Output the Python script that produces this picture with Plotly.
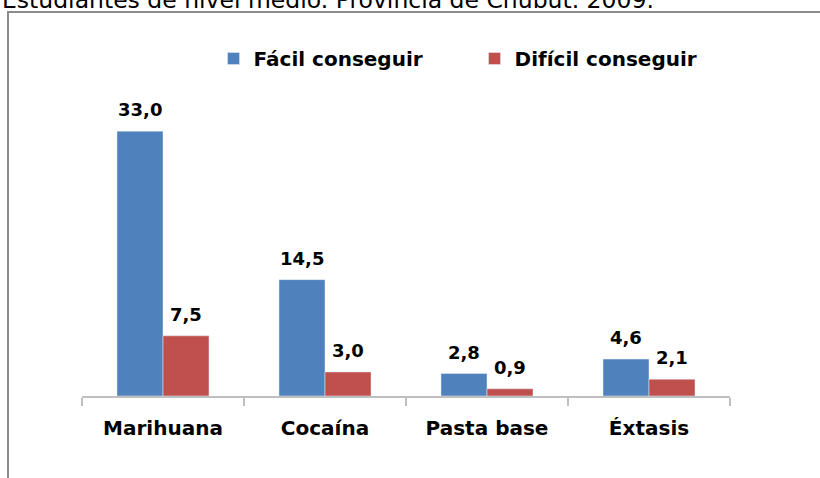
import plotly.graph_objects as go

categories = ["Marihuana", "Cocaína", "Pasta base", "Éxtasis"]
facil = [33.0, 14.5, 2.8, 4.6]
dificil = [7.5, 3.0, 0.9, 2.1]
series_names = ["Fácil conseguir", "Difícil conseguir"]
title_text = "Estudiantes de nivel medio. Provincia de Chubut. 2009."

BLUE = "#4F81BD"
RED = "#C0504D"
FONT = "DejaVu Sans"


def fmt(v):
    return f"{v:.1f}".replace(".", ",")


fig = go.Figure()
fig.add_trace(go.Bar(x=categories, y=facil, name=series_names[0], marker_color=BLUE))
fig.add_trace(go.Bar(x=categories, y=dificil, name=series_names[1], marker_color=RED))

# value labels above the bars
annotations = []
for vals, shift in [(facil, -23), (dificil, 23)]:
    for cat, v in zip(categories, vals):
        annotations.append(dict(
            x=cat, y=v, xref="x", yref="y", text=fmt(v), showarrow=False,
            xshift=shift, yshift=9, yanchor="bottom",
            font=dict(family=FONT, size=18, color="black", weight="bold"),
        ))

# title sits mostly above the top edge, as in the original
annotations.append(dict(
    x=-0.1265, y=1.2336, xref="paper", yref="paper", text=title_text,
    showarrow=False, xanchor="left", yanchor="middle",
    font=dict(family=FONT, size=23.5, color="black"),
))

fig.update_layout(
    width=820, height=478,
    margin=dict(l=82, r=90, t=75, b=82, autoexpand=False),
    paper_bgcolor="white", plot_bgcolor="white",
    barmode="group", bargap=0.432, bargroupgap=0,
    showlegend=True,
    legend=dict(
        orientation="h", x=0.203, y=1.0514, xanchor="left", yanchor="middle",
        font=dict(family=FONT, size=20, color="black", weight="bold"),
        entrywidth=216, entrywidthmode="pixels",
        bgcolor="rgba(0,0,0,0)",
    ),
    xaxis=dict(
        showline=True, linecolor="#BFBFBF", linewidth=2,
        ticks="outside", tickson="boundaries", ticklen=8, tickcolor="#BFBFBF", tickwidth=2,
        tickfont=dict(family=FONT, size=20, color="black", weight="bold"),
        ticklabelstandoff=13,
        showgrid=False, zeroline=False,
    ),
    yaxis=dict(range=[0, 40], visible=False, showgrid=False, zeroline=False),
    annotations=annotations,
    shapes=[dict(
        type="rect", xref="paper", yref="paper",
        x0=-0.1142, y0=1.1963, x1=1.3, y1=-0.5,
        line=dict(color="#8C8C8C", width=2), fillcolor="rgba(0,0,0,0)", layer="above",
    )],
)

fig.write_html("out.html", config={"displayModeBar": False},
               post_script="document.body.style.margin='0';")
